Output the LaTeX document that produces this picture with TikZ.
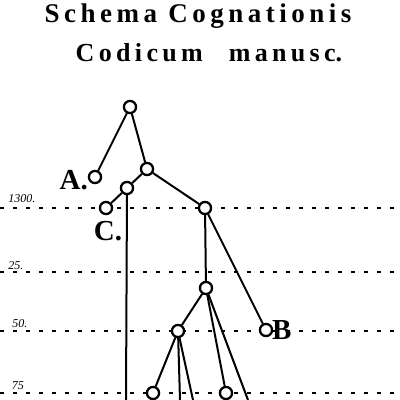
\documentclass[tikz,border=0pt]{standalone}
\usepackage{fontspec}
\setmainfont{Liberation Serif}
\begin{document}
\begin{tikzpicture}[x=1pt,y=-1pt,
  ms/.style={circle,draw,fill=white,line width=2.2pt,minimum size=12pt,inner sep=0pt},
  edge/.style={line width=2pt},
  grid/.style={line width=1.6pt,dash pattern=on 4pt off 9pt},
  lab/.style={font=\bfseries\fontsize{29}{29}\selectfont,inner sep=0pt},
  yr/.style={font=\itshape\fontsize{12}{12}\selectfont,inner sep=0pt}]
\useasboundingbox (0,0) rectangle (400,400);
% title
\node[inner sep=0pt] (t1) at (198,16) {\bfseries\fontsize{27}{27}\selectfont S\,c\,h\,e\,m\,a\, C\,o\,g\,n\,a\,t\,i\,o\,n\,i\,s};
\node[inner sep=0pt] (t2) at (209,53) {\bfseries\fontsize{26}{26}\selectfont C\,o\,d\,i\,c\,u\,m\quad m\,a\,n\,u\,s\,c.};
% grid lines
\coordinate (g1a) at (0,208); \coordinate (g1b) at (400,208);
\coordinate (g2a) at (0,272); \coordinate (g2b) at (400,272);
\coordinate (g3a) at (0,331); \coordinate (g3b) at (400,331);
\coordinate (g4a) at (0,393); \coordinate (g4b) at (400,393);
\draw[grid] (g1a) -- (g1b);
\draw[grid] (g2a) -- (g2b);
\draw[grid] (g3a) -- (g3b);
\draw[grid] (g4a) -- (g4b);
\node[yr] (y1) at (22,199) {1300.};
\node[yr] (y2) at (16,266) {25.};
\node[yr] (y3) at (20,324) {50.};
\node[yr] (y4) at (18,386) {75};
% bottom ends
\coordinate (b1) at (126,400);
\coordinate (b2) at (180,400);
\coordinate (b3) at (193,400);
\coordinate (b4) at (248,400);
% nodes
\node[ms] (r) at (130,107) {};
\node[ms] (a) at (95,177) {};
\node[ms] (x) at (147,169) {};
\node[ms] (y) at (127,188) {};
\node[ms] (c) at (106,208) {};
\node[ms] (d) at (205,208) {};
\node[ms] (e) at (206,288) {};
\node[ms] (b) at (266,330) {};
\node[ms] (f) at (178,331) {};
\node[ms] (g) at (153,393) {};
\node[ms] (h) at (226,393) {};
% edges
\draw[edge] (r) -- (a);
\draw[edge] (r) -- (x);
\draw[edge] (x) -- (y);
\draw[edge] (y) -- (c);
\draw[edge] (x) -- (d);
\draw[edge] (y) -- (b1);
\draw[edge] (d) -- (e);
\draw[edge] (d) -- (b);
\draw[edge] (e) -- (f);
\draw[edge] (e) -- (h);
\draw[edge] (e) -- (b4);
\draw[edge] (f) -- (g);
\draw[edge] (f) -- (b2);
\draw[edge] (f) -- (b3);
% labels
\node[lab,anchor=east] (la) at (88,180) {A.};
\node[lab] (lc) at (108,231) {C.};
\node[lab,anchor=west] (lb) at (272,330) {B};
% redraw nodes on top
\foreach \n in {r,a,x,y,c,d,e,b,f,g,h} {\node[ms] at (\n) {};}
\end{tikzpicture}
\end{document}
